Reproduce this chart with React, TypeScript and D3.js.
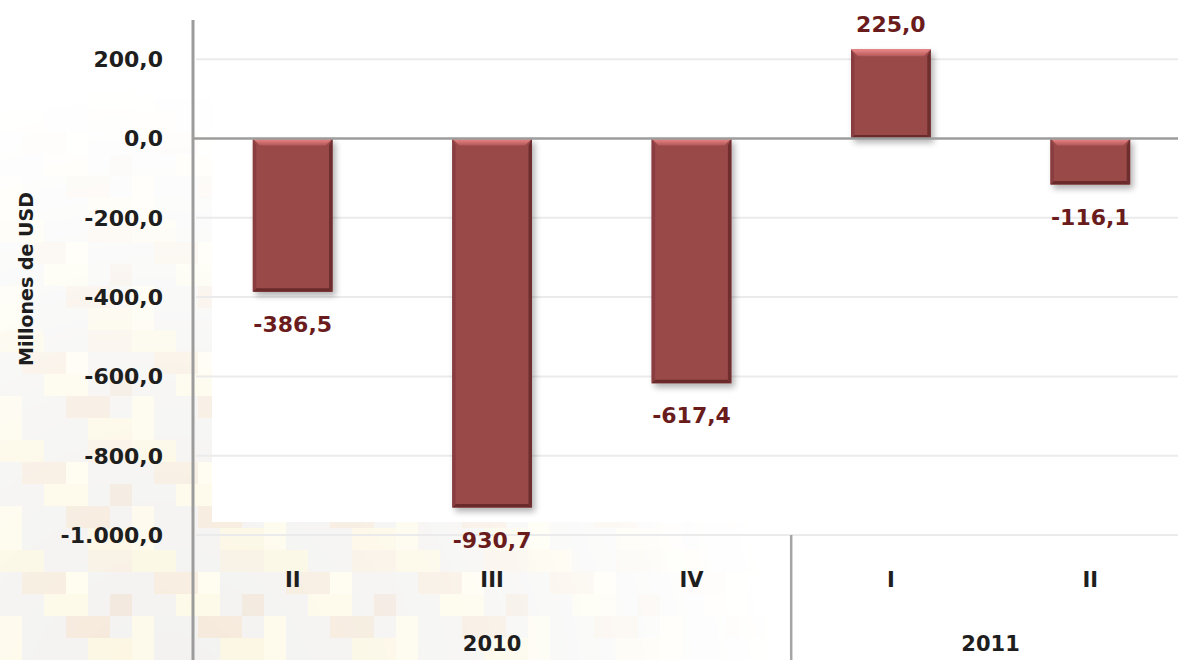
import React, { useEffect, useRef } from 'react';
import * as d3 from 'd3';

// balance per quarter, millions of USD
const quarters = ['II', 'III', 'IV', 'I', 'II'];
const values = [-386.5, -930.7, -617.4, 225.0, -116.1];
const yTicks = [200, 0, -200, -400, -600, -800, -1000];
const yearGroups = [
  { label: '2010', from: 0, to: 2 },
  { label: '2011', from: 3, to: 4 },
];

const W = 1178;
const H = 660;
const FONT = '"DejaVu Sans", Verdana, sans-serif';
const LABEL_COLOR = '#6a1c1d';

const fmt = (v: number) => {
  const s = Math.abs(v).toFixed(1).split('.');
  const int = s[0].replace(/\B(?=(\d{3})+(?!\d))/g, '.');
  return (v < 0 ? '-' : '') + int + ',' + s[1];
};

function App() {
  const ref = useRef<SVGSVGElement>(null);

  useEffect(() => {
    const svg = d3.select(ref.current);
    svg.selectAll('*').remove();

    const x = d3.scaleBand<number>()
      .domain(values.map((_, i) => i))
      .range([193, 1190])
      .paddingInner(0.6)
      .paddingOuter(0.3);

    const y = d3.scaleLinear()
      .domain([-1000, 200])
      .range([535, 59.2]);

    const defs = svg.append('defs');

    // faded blocky background texture
    const pat = defs.append('pattern')
      .attr('id', 'tex')
      .attr('patternUnits', 'userSpaceOnUse')
      .attr('width', 132)
      .attr('height', 110);
    pat.append('rect').attr('width', 132).attr('height', 110).attr('fill', '#f0efed');
    const blocks: [number, number, number, number, string][] = [
      [0, 0, 44, 22, '#fbf5dc'], [22, 22, 44, 22, '#f5e8d6'], [44, 44, 44, 22, '#fdf8e2'],
      [66, 66, 44, 22, '#f3e4d2'], [88, 88, 44, 22, '#fbf4dc'], [88, 0, 44, 22, '#f6ecdc'],
      [0, 66, 22, 44, '#fdf9e6'], [110, 44, 22, 22, '#efe2d4'], [66, 22, 22, 22, '#fffbea'],
    ];
    blocks.forEach(b => pat.append('rect').attr('x', b[0]).attr('y', b[1])
      .attr('width', b[2]).attr('height', b[3]).attr('fill', b[4]));

    const rg = defs.append('radialGradient').attr('id', 'fade')
      .attr('gradientUnits', 'userSpaceOnUse')
      .attr('cx', 160).attr('cy', 700).attr('r', 620);
    rg.append('stop').attr('offset', 0).attr('stop-color', '#fff').attr('stop-opacity', 0.85);
    rg.append('stop').attr('offset', 0.5).attr('stop-color', '#fff').attr('stop-opacity', 0.55);
    rg.append('stop').attr('offset', 0.85).attr('stop-color', '#fff').attr('stop-opacity', 0.15);
    rg.append('stop').attr('offset', 1).attr('stop-color', '#fff').attr('stop-opacity', 0);
    defs.append('mask').attr('id', 'fmask')
      .append('rect').attr('width', W).attr('height', H).attr('fill', 'url(#fade)');

    const shadow = defs.append('filter').attr('id', 'shadow')
      .attr('x', -0.2).attr('y', -0.2).attr('width', 1.5).attr('height', 1.5);
    shadow.append('feGaussianBlur').attr('in', 'SourceAlpha').attr('stdDeviation', 3);
    shadow.append('feOffset').attr('dx', 3).attr('dy', 4).attr('result', 'b');
    shadow.append('feComponentTransfer').append('feFuncA').attr('type', 'linear').attr('slope', 0.3);
    const merge = shadow.append('feMerge');
    merge.append('feMergeNode');
    merge.append('feMergeNode').attr('in', 'SourceGraphic');

    const topGrad = defs.append('linearGradient').attr('id', 'topBevel')
      .attr('x1', 0).attr('y1', 0).attr('x2', 0).attr('y2', 1);
    topGrad.append('stop').attr('offset', 0).attr('stop-color', '#f08a8a');
    topGrad.append('stop').attr('offset', 1).attr('stop-color', '#b25858');

    svg.append('rect').attr('width', W).attr('height', H).attr('fill', '#fff');
    svg.append('rect').attr('width', W).attr('height', H)
      .attr('fill', 'url(#tex)').attr('mask', 'url(#fmask)');

    // white plot area
    svg.append('rect').attr('x', 212).attr('y', 0)
      .attr('width', W - 212).attr('height', 522).attr('fill', '#fff');

    // gridlines
    svg.append('g').selectAll('line')
      .data(yTicks.filter(t => t !== 0))
      .join('line')
      .attr('x1', 196).attr('x2', W)
      .attr('y1', d => y(d)).attr('y2', d => y(d))
      .attr('stroke', '#ebebeb').attr('stroke-width', 2);

    // y tick labels
    svg.append('g').selectAll('text')
      .data(yTicks)
      .join('text')
      .attr('x', 163).attr('y', d => y(d))
      .attr('dy', '0.36em')
      .attr('text-anchor', 'end')
      .attr('font-family', FONT).attr('font-weight', 'bold').attr('font-size', 22)
      .attr('fill', '#1e1e1e')
      .text(d => fmt(d));

    svg.append('text')
      .attr('transform', 'translate(33,' + 279 + ') rotate(-90)')
      .attr('text-anchor', 'middle')
      .attr('font-family', FONT).attr('font-weight', 'bold').attr('font-size', 19)
      .attr('fill', '#1e1e1e')
      .text('Millones de USD');

    // bars
    const bars = svg.append('g').selectAll('g')
      .data(values)
      .join('g')
      .attr('filter', 'url(#shadow)');

    bars.each(function (d, i) {
      const g = d3.select(this);
      const x0 = x(i)!;
      const w = x.bandwidth();
      const top = Math.min(y(d), y(0));
      const bot = Math.max(y(d), y(0));
      const e = 7;
      g.append('rect').attr('x', x0).attr('y', top).attr('width', w).attr('height', bot - top)
        .attr('fill', '#9a494a');
      // left edge
      g.append('polygon')
        .attr('points', [[x0, top], [x0 + e / 2, top + e], [x0 + e / 2, bot - e / 2], [x0, bot]].join(' '))
        .attr('fill', '#8a3e3f');
      // right edge
      g.append('polygon')
        .attr('points', [[x0 + w, top], [x0 + w - e / 2, top + e], [x0 + w - e / 2, bot - e / 2], [x0 + w, bot]].join(' '))
        .attr('fill', '#6e2e2f');
      // bottom edge
      g.append('polygon')
        .attr('points', [[x0, bot], [x0 + e / 2, bot - e / 2], [x0 + w - e / 2, bot - e / 2], [x0 + w, bot]].join(' '))
        .attr('fill', '#6a2a2b');
      // top bevel
      g.append('polygon')
        .attr('points', [[x0, top], [x0 + w, top], [x0 + w - e, top + e], [x0 + e, top + e]].join(' '))
        .attr('fill', 'url(#topBevel)');
    });

    // zero line
    svg.append('line')
      .attr('x1', 193).attr('x2', W)
      .attr('y1', y(0)).attr('y2', y(0))
      .attr('stroke', '#9c9c9c').attr('stroke-width', 2.5);

    // y axis line
    svg.append('line')
      .attr('x1', 193).attr('x2', 193)
      .attr('y1', 20).attr('y2', H)
      .attr('stroke', '#9c9c9c').attr('stroke-width', 3);

    // value labels
    svg.append('g').selectAll('text')
      .data(values)
      .join('text')
      .attr('x', (_, i) => x(i)! + x.bandwidth() / 2)
      .attr('y', d => d < 0 ? y(d) + 40 : y(d) - 17)
      .attr('text-anchor', 'middle')
      .attr('font-family', FONT).attr('font-weight', 'bold').attr('font-size', 22)
      .attr('fill', LABEL_COLOR)
      .text(d => fmt(d));

    // quarter labels
    svg.append('g').selectAll('text')
      .data(quarters)
      .join('text')
      .attr('x', (_, i) => x(i)! + x.bandwidth() / 2)
      .attr('y', 587)
      .attr('text-anchor', 'middle')
      .attr('font-family', FONT).attr('font-weight', 'bold').attr('font-size', 21)
      .attr('fill', '#1e1e1e')
      .text(d => d);

    // year labels and separators
    const step = x.step();
    yearGroups.forEach((grp, gi) => {
      const cx = (x(grp.from)! + x(grp.to)!) / 2 + x.bandwidth() / 2;
      svg.append('text')
        .attr('x', cx).attr('y', 651)
        .attr('text-anchor', 'middle')
        .attr('font-family', FONT).attr('font-weight', 'bold').attr('font-size', 21)
        .attr('fill', '#1e1e1e')
        .text(grp.label);
      if (gi > 0) {
        const sx = x(grp.from)! + x.bandwidth() / 2 - step / 2;
        svg.append('line')
          .attr('x1', sx).attr('x2', sx)
          .attr('y1', y(-1000)).attr('y2', H)
          .attr('stroke', '#a5a5a5').attr('stroke-width', 2.5);
      }
    });
  }, []);

  return (
    <svg ref={ref} width={W} height={H}
      style={{ position: 'absolute', left: 0, top: 0, display: 'block' }} />
  );
}

export default App;
